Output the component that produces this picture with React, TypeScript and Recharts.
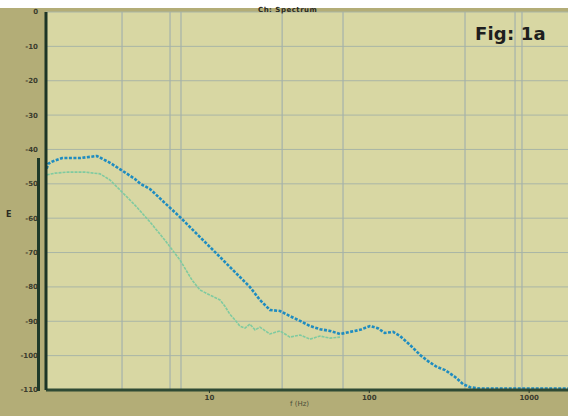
import { LineChart, Line, XAxis, YAxis, CartesianGrid, ReferenceLine } from "recharts";

// frequency (log axis) and level (dB)
const blueFreq = [0.96, 0.98, 1.03, 1.2, 1.3, 1.55, 1.98, 2.39, 2.88, 3.42, 3.7, 4.25, 5.27, 6.55, 8.73, 11.65, 14.46, 17.9, 20.7, 23.9, 27.6, 31.9, 36.9, 42.6, 49.2, 56.8, 65.6, 75.8, 87.5, 101, 113, 125, 141, 156, 180, 208, 233, 265, 298, 344, 386, 427, 493, 1750];
const blueLevel = [-45.6, -44.2, -43.6, -42.5, -42.5, -42.5, -41.9, -43.9, -46.3, -48.6, -50.0, -51.5, -55.6, -59.7, -65.5, -71.3, -75.7, -80.0, -83.8, -86.7, -87.0, -88.5, -89.9, -91.4, -92.3, -92.8, -93.7, -93.1, -92.5, -91.4, -92.0, -93.4, -93.1, -94.3, -96.9, -99.8, -101.6, -103.3, -104.2, -106.2, -108.3, -109.2, -109.6, -109.6];

const greenFreq = [0.96, 1.08, 1.3, 1.67, 2.07, 2.39, 2.76, 3.42, 4.25, 5.27, 6.55, 7.78, 8.73, 10.1, 11.65, 12.5, 13.4, 14.46, 15.5, 16.7, 17.9, 19.3, 20.7, 23.9, 27.6, 31.9, 36.9, 42.6, 49.2, 56.8, 65.6];
const greenLevel = [-47.4, -46.9, -46.6, -46.6, -47.1, -48.9, -51.8, -56.2, -61.1, -66.4, -72.2, -78.0, -80.9, -82.4, -83.8, -85.6, -87.9, -89.6, -91.4, -92.0, -90.8, -92.5, -91.7, -93.7, -92.8, -94.6, -94.0, -95.2, -94.3, -94.9, -94.6];

const yTicks = [0, -10, -20, -30, -40, -50, -60, -70, -80, -90, -100, -110];
const xTicks = [10, 100, 1000];
const vGrid = [2.84, 5.67, 6.64, 28.5, 68.5, 397, 816, 902];

const blueData = blueFreq.map((f, i) => ({ f, v: blueLevel[i] }));
const greenData = greenFreq.map((f, i) => ({ f, v: greenLevel[i] }));

const tickStyle = { fill: "#3a3c2e", fontSize: 7, fontFamily: "DejaVu Sans", fontWeight: 700 };

export default function App() {
  return (
    <div
      style={{
        position: "absolute",
        left: 0,
        top: 0,
        width: 568,
        height: 416,
        background: "#b3ad77",
        overflow: "hidden",
      }}
    >
      <div style={{ position: "absolute", left: 0, top: 0, width: 568, height: 8, background: "#ffffff" }} />
      <div style={{ position: "absolute", left: 0, top: 8, width: 568, height: 408 }}>
        <LineChart
          width={568}
          height={408}
          margin={{ top: 4, right: 0, bottom: 0, left: 0 }}
        >
          <CartesianGrid
            fill="#d8d7a3"
            stroke="#a9b5a6"
            vertical={false}
          />
          {vGrid.map((x) => (
            <ReferenceLine key={x} x={x} stroke="#a4b2ab" strokeWidth={1.2} />
          ))}
          <XAxis
            dataKey="f"
            type="number"
            scale="log"
            domain={[0.95, 1750]}
            allowDataOverflow
            ticks={xTicks}
            height={26}
            tick={tickStyle}
            tickLine={{ stroke: "#2b3a2a" }}
            tickSize={3}
            axisLine={{ stroke: "#2f4a34", strokeWidth: 3 }}
          />
          <YAxis
            type="number"
            domain={[-110, 0]}
            ticks={yTicks}
            width={46}
            tick={tickStyle}
            tickLine={false}
            axisLine={{ stroke: "#1c3526", strokeWidth: 3 }}
          />
          <Line
            data={greenData}
            dataKey="v"
            type="linear"
            stroke="#7fcaa0"
            strokeWidth={1.6}
            strokeDasharray="3 1"
            dot={false}
            isAnimationActive={false}
          />
          <Line
            data={blueData}
            dataKey="v"
            type="linear"
            stroke="#1f8cc0"
            strokeWidth={2.6}
            strokeDasharray="3 1.5"
            dot={false}
            isAnimationActive={false}
          />
        </LineChart>
      </div>
      <div style={{ position: "absolute", left: 37, top: 158, width: 3, height: 233, background: "#1f3a29" }} />
      <div
        style={{
          position: "absolute",
          left: 258,
          top: 6,
          fontSize: 7,
          fontWeight: 700,
          fontFamily: "DejaVu Sans",
          color: "#2a2a22",
          letterSpacing: 0.5,
        }}
      >
        Ch: Spectrum
      </div>
      <div
        style={{
          position: "absolute",
          left: 475,
          top: 25,
          fontSize: 18,
          lineHeight: 1,
          fontWeight: 700,
          fontFamily: "DejaVu Sans",
          color: "#1e1e1e",
          letterSpacing: 0.2,
        }}
      >
        Fig: 1a
      </div>
      <div
        style={{
          position: "absolute",
          left: 6,
          top: 210,
          fontSize: 8,
          fontWeight: 700,
          fontFamily: "DejaVu Sans",
          color: "#2a2a22",
        }}
      >
        E
      </div>
      <div
        style={{
          position: "absolute",
          left: 290,
          top: 400,
          fontSize: 7,
          fontFamily: "DejaVu Sans",
          color: "#4a4c38",
        }}
      >
        f (Hz)
      </div>
    </div>
  );
}
